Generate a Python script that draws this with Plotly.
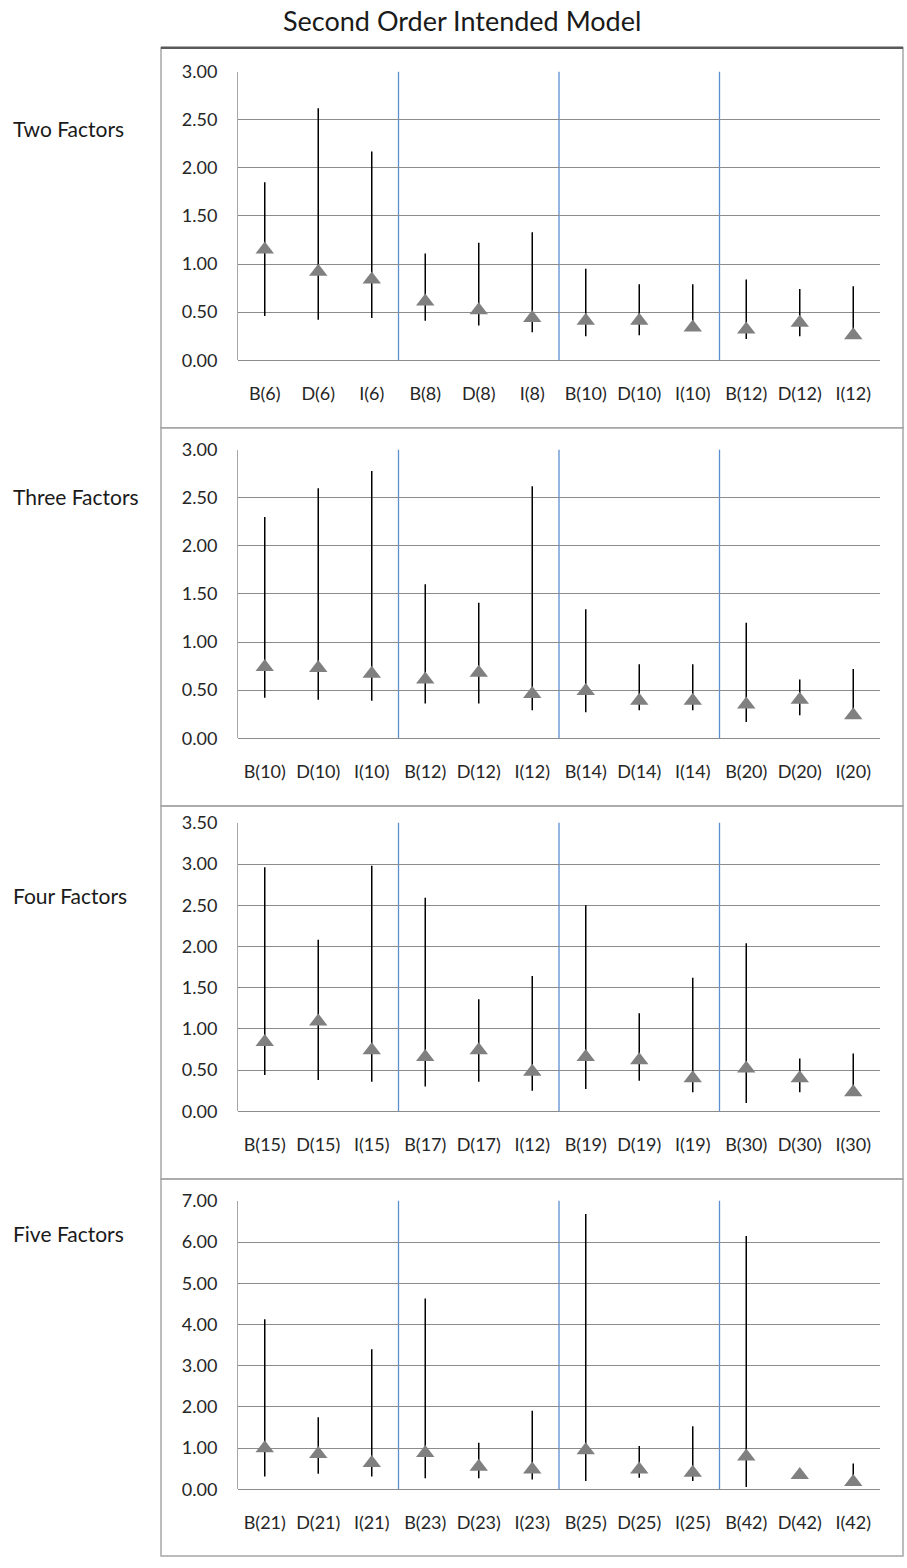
import plotly.graph_objects as go

# ---- data -------------------------------------------------------------
panel_titles = ["Two Factors", "Three Factors", "Four Factors", "Five Factors"]

labels_two = ["B(6)", "D(6)", "I(6)", "B(8)", "D(8)", "I(8)",
              "B(10)", "D(10)", "I(10)", "B(12)", "D(12)", "I(12)"]
mid_two = [1.15, 0.92, 0.84, 0.61, 0.52, 0.44, 0.41, 0.41, 0.34, 0.32, 0.39, 0.26]
high_two = [1.85, 2.62, 2.17, 1.11, 1.22, 1.33, 0.95, 0.79, 0.79, 0.84, 0.74, 0.77]
low_two = [0.46, 0.42, 0.44, 0.41, 0.36, 0.29, 0.25, 0.26, 0.31, 0.22, 0.25, 0.24]

labels_three = ["B(10)", "D(10)", "I(10)", "B(12)", "D(12)", "I(12)",
                "B(14)", "D(14)", "I(14)", "B(20)", "D(20)", "I(20)"]
mid_three = [0.74, 0.73, 0.67, 0.61, 0.68, 0.46, 0.49, 0.39, 0.39, 0.35, 0.40, 0.24]
high_three = [2.30, 2.60, 2.78, 1.60, 1.41, 2.62, 1.34, 0.77, 0.77, 1.20, 0.61, 0.72]
low_three = [0.42, 0.40, 0.39, 0.36, 0.36, 0.29, 0.27, 0.29, 0.29, 0.17, 0.24, 0.20]

labels_four = ["B(15)", "D(15)", "I(15)", "B(17)", "D(17)", "I(12)",
               "B(19)", "D(19)", "I(19)", "B(30)", "D(30)", "I(30)"]
mid_four = [0.84, 1.09, 0.74, 0.66, 0.74, 0.48, 0.66, 0.62, 0.40, 0.52, 0.40, 0.23]
high_four = [2.96, 2.08, 2.98, 2.59, 1.36, 1.64, 2.50, 1.19, 1.62, 2.04, 0.64, 0.70]
low_four = [0.44, 0.38, 0.36, 0.30, 0.36, 0.25, 0.27, 0.37, 0.23, 0.10, 0.23, 0.20]

labels_five = ["B(21)", "D(21)", "I(21)", "B(23)", "D(23)", "I(23)",
               "B(25)", "D(25)", "I(25)", "B(42)", "D(42)", "I(42)"]
mid_five = [1.00, 0.86, 0.64, 0.88, 0.55, 0.48, 0.95, 0.48, 0.40, 0.80, 0.35, 0.18]
high_five = [4.13, 1.75, 3.40, 4.63, 1.13, 1.91, 6.68, 1.05, 1.53, 6.15, 0.45, 0.63]
low_five = [0.31, 0.38, 0.31, 0.27, 0.27, 0.24, 0.20, 0.28, 0.20, 0.06, 0.25, 0.10]

y_max = [3.0, 3.0, 3.5, 7.0]
y_step = [0.5, 0.5, 0.5, 1.0]

panels = [
    (labels_two, mid_two, high_two, low_two),
    (labels_three, mid_three, high_three, low_three),
    (labels_four, mid_four, high_four, low_four),
    (labels_five, mid_five, high_five, low_five),
]

# ---- layout geometry (pixels on the page) -----------------------------
W, H = 907, 1568
TOP_PAD, USABLE_H = 7, 1554   # page offset and height actually spanned by the figure


def px_x(v):
    return v / W


def px_y(v):
    return 1 - (v - TOP_PAD) / USABLE_H


plot_left, plot_right = 238, 880
plot_tops = [67, 447, 822, 1202]
plot_height = 290
box_edges = [43, 425, 805, 1180, 1559]
box_left, box_right = 161, 903
label_y = [124, 494, 895, 1235]

FONT = "Lato, 'Open Sans', sans-serif"
GRID = "#8c8c8c"
SEP = "#5b8fd1"
TXT = "#262626"

fig = go.Figure()
shapes = []
annotations = []

for i, (labels, mid, high, low) in enumerate(panels):
    n = i + 1
    xa = "x" if n == 1 else f"x{n}"
    ya = "y" if n == 1 else f"y{n}"
    xs = list(range(len(labels)))
    fig.add_trace(go.Scatter(
        x=xs, y=mid, xaxis=xa, yaxis=ya, mode="markers",
        marker=dict(symbol="triangle-up", size=16, color="#808080"),
        error_y=dict(type="data", symmetric=False,
                     array=[h - m for h, m in zip(high, mid)],
                     arrayminus=[m - l for m, l in zip(mid, low)],
                     width=0, thickness=1.5, color="black"),
        showlegend=False, hoverinfo="skip"))

    top = plot_tops[i]
    dom_y = [px_y(top + plot_height), px_y(top)]
    dom_x = [px_x(plot_left), px_x(plot_right)]
    fig.layout[f"xaxis{'' if n == 1 else n}"] = dict(
        domain=dom_x, anchor=ya, range=[-0.5, len(labels) - 0.5],
        tickmode="array", tickvals=xs, ticktext=labels,
        showgrid=False, zeroline=False, showline=False,
        ticks="", ticklabelstandoff=21,
        tickfont=dict(family=FONT, size=18, color=TXT), fixedrange=True)
    fig.layout[f"yaxis{'' if n == 1 else n}"] = dict(
        domain=dom_y, anchor=xa, range=[0, y_max[i]], dtick=y_step[i], tick0=0,
        tickformat=".2f", showgrid=True, gridcolor=GRID, gridwidth=1,
        zeroline=True, zerolinecolor=GRID, zerolinewidth=1,
        showline=True, linecolor="#a6a6a6", linewidth=1,
        ticks="", ticklabelstandoff=16,
        tickfont=dict(family=FONT, size=18, color=TXT), fixedrange=True)

    # group separators between every three categories
    for k in range(3, len(labels), 3):
        shapes.append(dict(type="line", xref=xa, yref=f"{ya} domain",
                           x0=k - 0.5, x1=k - 0.5, y0=0, y1=1,
                           line=dict(color=SEP, width=1.3), layer="below"))

    # panel frame
    shapes.append(dict(type="rect", xref="paper", yref="paper",
                       x0=px_x(box_left), x1=px_x(box_right),
                       y0=px_y(box_edges[i + 1]), y1=px_y(box_edges[i]),
                       line=dict(color="#a6a6a6", width=1.5), layer="below"))

    annotations.append(dict(text=panel_titles[i], xref="paper", yref="paper",
                            x=px_x(11), y=px_y(label_y[i]), xanchor="left",
                            yanchor="middle", showarrow=False,
                            font=dict(family=FONT, size=21, color="#1a1a1a")))

# darker top edge of the outer frame
shapes.append(dict(type="line", xref="paper", yref="paper",
                   x0=px_x(box_left), x1=px_x(box_right),
                   y0=px_y(box_edges[0]), y1=px_y(box_edges[0]),
                   line=dict(color="#595959", width=2.5)))

annotations.append(dict(text="Second Order Intended Model", xref="paper", yref="paper",
                        x=px_x(462), y=px_y(16), xanchor="center", yanchor="middle",
                        showarrow=False,
                        font=dict(family=FONT, size=27, color="#1a1a1a")))

fig.update_layout(width=W, height=H, margin=dict(l=0, r=0, t=0, b=0),
                  paper_bgcolor="white", plot_bgcolor="white",
                  shapes=shapes, annotations=annotations)

fig.write_html("out.html")
